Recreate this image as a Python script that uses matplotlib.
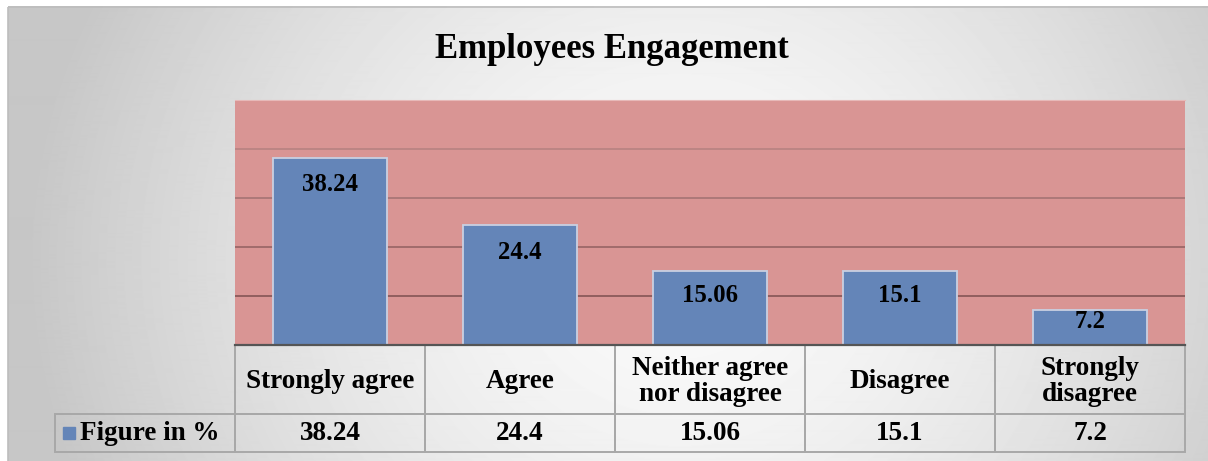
import matplotlib
matplotlib.use("Agg")
import matplotlib.pyplot as plt
from matplotlib.patches import Rectangle
import numpy as np

# data
categories = ["Strongly agree", "Agree", "Neither agree\nnor disagree", "Disagree", "Strongly\ndisagree"]
values = [38.24, 24.4, 15.06, 15.1, 7.2]
series_name = "Figure in %"
title = "Employees Engagement"

W, H = 1208, 461
fig = plt.figure(figsize=(W / 100, H / 100), dpi=100)
fig.patch.set_facecolor("white")

serif = ["Liberation Serif", "DejaVu Serif"]
bar_color = "#6485b8"
cell_edge = "#a8a8a8"

# background of the chart area: soft radial grey gradient
bg = fig.add_axes([0, 0, 1, 1], zorder=-10)
bg.set_xlim(0, W)
bg.set_ylim(H, 0)
bg.axis("off")
xx, yy = np.meshgrid(np.arange(8, W + 2), np.arange(7, H + 2))
d = np.sqrt(((xx - 680) / 650.0) ** 2 + ((yy - 260) / 600.0) ** 2)
d = np.clip(d, 0, 1)
grey = 0.98 - 0.2 * d ** 1.6
bg.imshow(grey, cmap="gray", vmin=0, vmax=1, extent=(8, W + 2, H + 2, 7),
          aspect="auto", interpolation="bilinear")
bg.add_patch(Rectangle((8, 7), W + 10, H + 10, fill=False, ec="#bdbdbd", lw=1.2))

# plot area
ax = fig.add_axes([235 / W, 1 - 345 / H, 950 / W, 245 / H])
ax.set_facecolor("#d99594")
x = np.arange(len(values))
ax.set_xlim(-0.5, len(values) - 0.5)
ax.set_ylim(0, 50)
ax.set_yticks([10, 20, 30, 40])
grid_cols = ["#8b5a5a", "#9b6868", "#a97777", "#b98483"]
for yv, c in zip(ax.get_yticks(), grid_cols):
    ax.axhline(yv, color=c, lw=1.3, zorder=1)
ax.bar(x, values, width=0.6, color=bar_color, edgecolor="#c9d0e2", lw=1.3, zorder=2)

for s in ["left", "right"]:
    ax.spines[s].set_visible(False)
ax.spines["top"].set_color("#e7b9b8")
ax.spines["bottom"].set_color("#555555")
ax.spines["bottom"].set_linewidth(1.6)
ax.spines["bottom"].set_zorder(5)
ax.tick_params(left=False, bottom=False, labelleft=False, labelbottom=False)

px_per_unit = 245 / 50.0
for xi, v in zip(x, values):
    off = min(27, 0.33 * v * px_per_unit)
    ax.annotate(f"{v:g}", (xi, v), xytext=(0, -off), textcoords="offset pixels",
                ha="center", va="center", fontsize=17.8, fontweight="bold",
                family=serif, color="black", zorder=3)

# data table under the axis (axes coordinates)
hdr_h = 69 / 245
val_h = 38 / 245
lab_w = 180 / 950
n = len(categories)
tkw = dict(transform=ax.transAxes, clip_on=False)
txt = dict(ha="center", va="center", fontsize=19.5, fontweight="bold", family=serif,
           linespacing=1.1, transform=ax.transAxes, clip_on=False)
for i, (cat, v) in enumerate(zip(categories, values)):
    x0 = i / n
    ax.add_patch(Rectangle((x0, -hdr_h), 1 / n, hdr_h, fill=False, ec=cell_edge, lw=1.4, **tkw))
    ax.add_patch(Rectangle((x0, -hdr_h - val_h), 1 / n, val_h, fill=False, ec=cell_edge, lw=1.4, **tkw))
    ax.text(x0 + 0.5 / n, -hdr_h / 2 - 0.008, cat, **txt)
    ax.text(x0 + 0.5 / n, -hdr_h - val_h / 2, f"{v:g}", **txt)
ax.add_patch(Rectangle((-lab_w, -hdr_h - val_h), lab_w, val_h, fill=False, ec=cell_edge, lw=1.4, **tkw))
ax.text((219 - 235) / 950, -hdr_h - val_h / 2, series_name,
        **{**txt, "ha": "right"})
ax.plot([(69 - 235) / 950], [-(433 - 345) / 245], marker="s", ms=8, color=bar_color,
        transform=ax.transAxes, clip_on=False)

fig.text(612 / W, 1 - 50 / H, title, ha="center", va="center", fontsize=25,
         fontweight="bold", family=serif)

fig.savefig("out.png", dpi=100)
